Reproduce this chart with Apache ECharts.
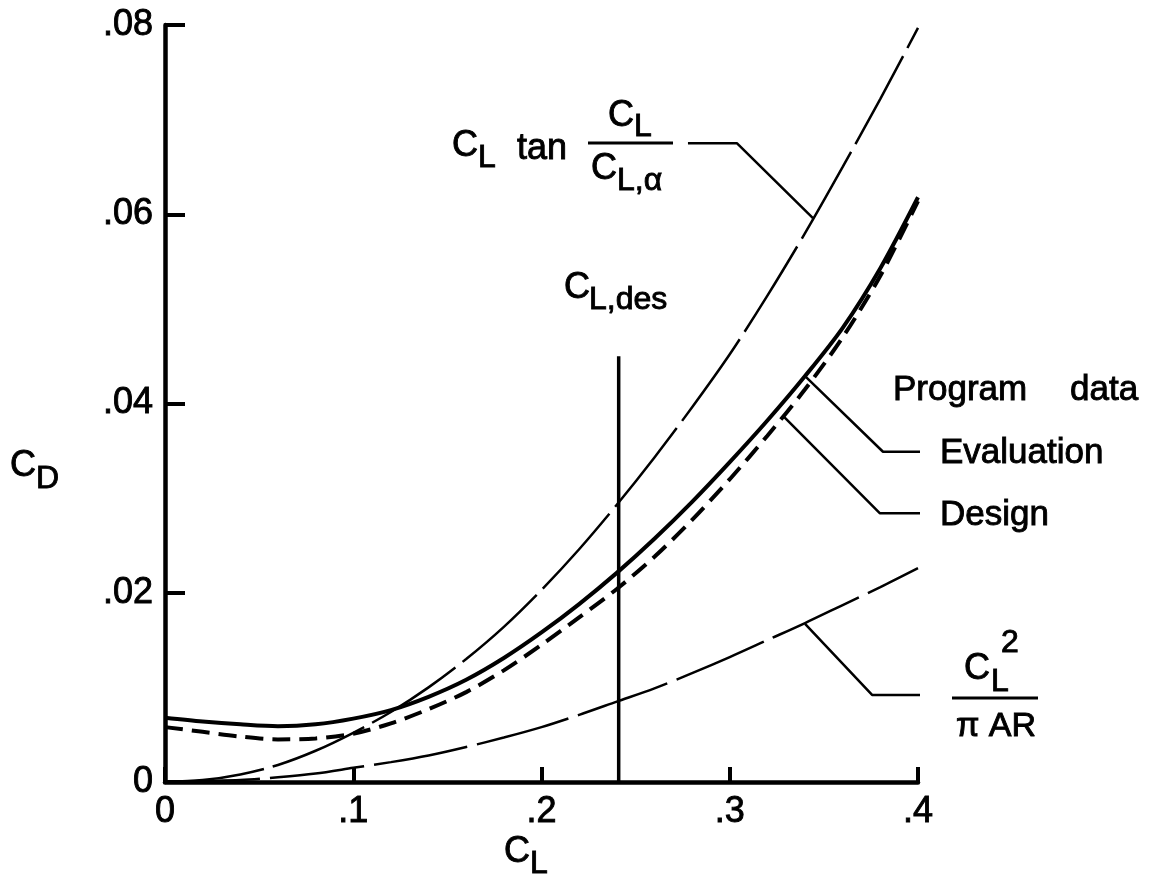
<!DOCTYPE html>
<html>
<head>
<meta charset="utf-8">
<script src="https://cdn.jsdelivr.net/npm/echarts@6/dist/echarts.min.js"></script>
<style>
  html, body { margin: 0; padding: 0; background: #fff; }
  #chart { width: 1158px; height: 881px; }
</style>
</head>
<body>
<div id="chart"></div>
<script>
// Lift coefficient stations
const cl = [0, 0.02, 0.04, 0.06, 0.08, 0.10, 0.12, 0.14, 0.16, 0.18, 0.20,
            0.22, 0.24, 0.26, 0.28, 0.30, 0.32, 0.34, 0.36, 0.38, 0.40];

// Drag coefficient curves
const cdEvaluation = [0.0068, 0.0064, 0.0061, 0.0059, 0.0061, 0.0067, 0.0076, 0.0090, 0.0108, 0.0131, 0.0158,
                      0.0188, 0.0221, 0.0257, 0.0296, 0.0338, 0.0382, 0.0429, 0.0480, 0.0543, 0.0618];
const cdDesign     = [0.0058, 0.0053, 0.0048, 0.0045, 0.0046, 0.0051, 0.0062, 0.0077, 0.0095, 0.0118, 0.0145,
                      0.0174, 0.0204, 0.0238, 0.0277, 0.0320, 0.0366, 0.0415, 0.0470, 0.0535, 0.0614];
const cdTan        = [0, 0.0002, 0.0008, 0.0018, 0.0033, 0.0052, 0.0074, 0.0100, 0.0130, 0.0164, 0.0203,
                      0.0246, 0.0293, 0.0343, 0.0396, 0.0452, 0.0514, 0.0580, 0.0650, 0.0722, 0.0797];
const cdInduced    = [0, 0.0001, 0.0002, 0.0005, 0.0009, 0.0015, 0.0021, 0.0028, 0.0037, 0.0047, 0.0058,
                      0.0071, 0.0085, 0.0099, 0.0115, 0.0132, 0.0150, 0.0168, 0.0187, 0.0206, 0.0226];

// Design lift coefficient marker
const clDes = 0.241;
const clDesTop = 0.045;

// Tick labels
const xTickLabels = ['0', '.1', '.2', '.3', '.4'];
const yTickLabels = ['0', '.02', '.04', '.06', '.08'];

// Leader lines (data units) from each curve to its label
const leaderTan        = [[0.2778, 0.0675], [0.3039, 0.0675], [0.3442, 0.0596]];
const leaderEvaluation = [[0.3400, 0.0429], [0.3814, 0.0349], [0.4064, 0.0349]];
const leaderDesign     = [[0.3283, 0.0387], [0.3798, 0.0284], [0.4064, 0.0284]];
const leaderInduced    = [[0.3400, 0.0167], [0.3756, 0.0092], [0.4037, 0.0092]];

const FONT = '"Liberation Sans", Arial, sans-serif';
const TEXT_WEIGHT = 0.9;   // extra stroke around glyphs for a heavier lettering look

function pairs(ys) { return cl.map((x, i) => [x, ys[i]]); }

function txt(x, y, text, size, align) {
  return {
    type: 'text', x: x, y: y, silent: true,
    style: {
      text: text, fill: '#000', font: size + 'px ' + FONT,
      stroke: '#000', lineWidth: TEXT_WEIGHT,
      align: align || 'left', verticalAlign: 'middle',
      textAlign: align || 'left', textVerticalAlign: 'middle'
    }
  };
}
function bar(x1, x2, y) {
  return { type: 'line', silent: true, shape: { x1: x1, y1: y, x2: x2, y2: y },
           style: { stroke: '#000', lineWidth: 3 } };
}

function curve(name, ys, width, dash) {
  return {
    name: name, type: 'line', data: pairs(ys), showSymbol: false, smooth: 0.3,
    silent: true, animation: false,
    lineStyle: { color: '#000', width: width, type: dash || 'solid', cap: 'butt' }
  };
}
function leader(pts) {
  return {
    type: 'line', data: pts, showSymbol: false, silent: true, animation: false, clip: false,
    lineStyle: { color: '#000', width: 2.5 }
  };
}

const axisLabelStyle = {
  color: '#000', fontSize: 36, fontFamily: FONT,
  textBorderColor: '#000', textBorderWidth: TEXT_WEIGHT
};

const chart = echarts.init(document.getElementById('chart'), null, { renderer: 'canvas' });

chart.setOption({
  backgroundColor: '#fff',
  animation: false,
  grid: { left: 165, right: 240, top: 25, bottom: 99, containLabel: false },
  xAxis: {
    type: 'value', min: 0, max: 0.4, interval: 0.1,
    axisLine: { show: true, lineStyle: { color: '#000', width: 4.5 } },
    axisTick: { show: true, inside: true, length: 15, lineStyle: { color: '#000', width: 4 } },
    splitLine: { show: false },
    axisLabel: Object.assign({}, axisLabelStyle, {
      margin: 12,
      formatter: v => xTickLabels[Math.round(v / 0.1)]
    })
  },
  yAxis: {
    type: 'value', min: 0, max: 0.08, interval: 0.02,
    axisLine: { show: true, lineStyle: { color: '#000', width: 4.5 } },
    axisTick: { show: true, inside: true, length: 20, lineStyle: { color: '#000', width: 4 } },
    splitLine: { show: false },
    axisLabel: Object.assign({}, axisLabelStyle, {
      margin: 12,
      formatter: v => yTickLabels[Math.round(v / 0.02)]
    })
  },
  series: [
    curve('Evaluation', cdEvaluation, 4),
    curve('Design', cdDesign, 4, [18, 9]),
    curve('CL tan', cdTan, 2.5, [100, 9]),
    curve('CL2/piAR', cdInduced, 2.5, [95, 10]),
    {
      name: 'CL,des', type: 'line', data: [[clDes, 0], [clDes, clDesTop]],
      showSymbol: false, silent: true, animation: false,
      lineStyle: { color: '#000', width: 3.5 }
    },
    leader(leaderTan),
    leader(leaderEvaluation),
    leader(leaderDesign),
    leader(leaderInduced)
  ],
  graphic: [
    // axis titles
    txt(10, 466, 'C', 36), txt(36, 479, 'D', 32),
    txt(504, 852, 'C', 36), txt(530, 864, 'L', 32),
    // C_L tan (C_L / C_L,alpha)
    txt(452, 146, 'C', 36), txt(478, 158, 'L', 32),
    txt(517, 149, 'tan', 36),
    bar(588, 673, 143),
    txt(608, 116, 'C', 36), txt(634, 127, 'L', 32),
    txt(591, 169, 'C', 36), txt(617, 181, 'L,α', 32),
    // design lift coefficient
    txt(564, 288, 'C', 36), txt(589, 300, 'L,des', 32),
    // program data labels
    txt(893, 390, 'Program', 35), txt(1070, 390, 'data', 35),
    txt(940, 453, 'Evaluation', 35),
    txt(940, 515, 'Design', 35),
    // C_L^2 / (pi AR)
    txt(964, 669, 'C', 36), txt(991, 682, 'L', 32), txt(1001, 643, '2', 32),
    bar(952, 1038, 698),
    txt(996, 727, 'π AR', 34, 'center')
  ]
});
</script>
</body>
</html>
